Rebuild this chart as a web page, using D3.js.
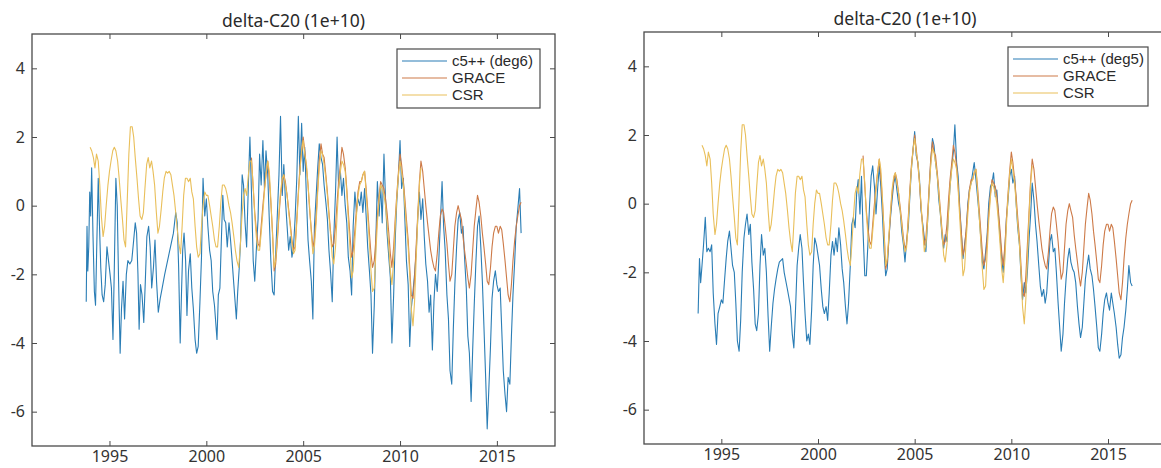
<!DOCTYPE html>
<html>
<head>
<meta charset="utf-8">
<script src="https://cdn.jsdelivr.net/npm/d3@7"></script>
<style>
  body { margin: 0; background: #fff; }
  svg { display: block; font-family: "Noto Sans", "DejaVu Sans", sans-serif; }
</style>
</head>
<body>
<svg id="chart" width="1161" height="468"></svg>
<script>
// ── data (units of 1e-10) ──
const xTicks = [1995, 2000, 2005, 2010, 2015];
const yTicks = [-6, -4, -2, 0, 2, 4];
const titleText = "delta-C20 (1e+10)";
const seriesNames = ["GRACE", "CSR"];

// CSR (yellow), shared by both panels
const csr = [
  [1994.00,1.7],[1994.08,1.6],[1994.17,1.4],[1994.25,1.1],[1994.33,1.5],[1994.42,1.3],[1994.50,0.6],
  [1994.58,-0.3],[1994.67,-0.9],[1994.75,-0.6],[1994.83,0.0],[1994.92,0.6],[1995.00,1.0],[1995.08,1.3],
  [1995.17,1.6],[1995.25,1.7],[1995.33,1.6],[1995.42,1.3],[1995.50,0.8],[1995.58,0.2],[1995.67,-0.4],
  [1995.75,-1.0],[1995.83,-1.2],[1995.92,0.2],[1996.00,1.5],[1996.08,2.3],[1996.17,2.3],[1996.25,2.0],
  [1996.33,1.4],[1996.42,0.8],[1996.50,0.2],[1996.58,-0.3],[1996.67,-0.4],[1996.75,-0.2],[1996.83,0.5],
  [1996.92,1.2],[1997.00,1.4],[1997.08,1.1],[1997.17,1.3],[1997.25,1.0],[1997.33,0.6],[1997.42,-0.2],
  [1997.50,-0.8],[1997.58,-0.6],[1997.67,-0.1],[1997.75,0.4],[1997.83,0.8],[1997.92,1.0],[1998.00,0.95],
  [1998.08,1.0],[1998.17,0.9],[1998.25,0.6],[1998.33,0.3],[1998.42,-0.2],[1998.50,-0.7],[1998.58,-1.1],
  [1998.67,-1.4],[1998.75,-0.6],[1998.83,0.3],[1998.92,0.8],[1999.00,0.8],[1999.08,0.7],[1999.17,0.8],
  [1999.25,0.4],[1999.33,0.2],[1999.42,-0.6],[1999.50,-1.2],[1999.58,-1.5],[1999.67,-1.4],[1999.75,-0.6],
  [1999.83,0.0],[1999.92,0.4],[2000.00,0.3],[2000.08,0.3],[2000.17,0.0],[2000.25,-0.3],[2000.33,-0.6],
  [2000.42,-1.0],[2000.50,-1.2],[2000.58,-1.2],[2000.67,-0.6],[2000.75,0.1],[2000.83,0.6],[2000.92,0.6],
  [2001.00,0.5],[2001.08,0.3],[2001.17,0.0],[2001.25,-0.2],[2001.33,-0.5],[2001.42,-0.9],[2001.50,-1.3],
  [2001.58,-1.6],[2001.67,-1.8],[2001.75,-1.2],[2001.83,-0.4],[2001.92,0.3],[2002.00,0.5],[2002.08,0.3],
  [2002.17,0.9],[2002.25,1.3],[2002.33,1.3],[2002.42,0.6],[2002.50,-0.3],[2002.58,-0.9],[2002.67,-1.3],
  [2002.75,-1.3],[2002.83,-0.8],[2002.92,-0.2],[2003.00,0.4],[2003.08,0.9],[2003.17,1.3],[2003.25,1.0],
  [2003.33,0.2],[2003.42,-0.9],[2003.50,-1.8],[2003.58,-1.6],[2003.67,-0.9],[2003.75,-0.2],[2003.83,0.4],
  [2003.92,0.8],[2004.00,0.9],[2004.08,0.6],[2004.17,0.3],[2004.25,-0.2],[2004.33,-0.6],[2004.42,-1.1],
  [2004.50,-1.4],[2004.58,-1.3],[2004.67,-0.5],[2004.75,0.3],[2004.83,1.0],[2004.92,1.6],[2005.00,1.9],
  [2005.08,1.5],[2005.17,1.2],[2005.25,0.6],[2005.33,0.0],[2005.42,-0.8],[2005.50,-1.4],[2005.58,-1.2],
  [2005.67,-0.5],[2005.75,0.4],[2005.83,1.1],[2005.92,1.6],[2006.00,1.5],[2006.08,1.2],[2006.17,0.8],
  [2006.25,0.3],[2006.33,-0.3],[2006.42,-0.9],[2006.50,-1.5],[2006.58,-1.7],[2006.67,-1.2],[2006.75,-0.3],
  [2006.83,0.5],[2006.92,1.0],[2007.00,1.3],[2007.08,1.2],[2007.17,1.0],[2007.25,0.4],[2007.33,-0.4],
  [2007.42,-1.3],[2007.50,-2.1],[2007.58,-1.9],[2007.67,-1.0],[2007.75,-0.3],[2007.83,0.3],[2007.92,0.6],
  [2008.00,0.7],[2008.08,0.9],[2008.17,1.0],[2008.25,0.4],[2008.33,-0.3],[2008.42,-1.1],[2008.50,-1.9],
  [2008.58,-2.5],[2008.67,-2.4],[2008.75,-1.4],[2008.83,-0.5],[2008.92,0.2],[2009.00,0.6],[2009.08,0.5],
  [2009.17,0.3],[2009.25,0.0],[2009.33,-0.5],[2009.42,-1.2],[2009.50,-1.9],[2009.58,-2.3],[2009.67,-1.6],
  [2009.75,-0.6],[2009.83,0.2],[2009.92,0.9],[2010.00,1.3],[2010.08,1.0],[2010.17,0.6],[2010.25,0.0],
  [2010.33,-0.6],[2010.42,-1.2],[2010.50,-2.0],[2010.58,-3.0],[2010.67,-3.5],[2010.75,-2.8],[2010.83,-1.6],
  [2010.92,-0.3],[2011.00,0.6],[2011.08,1.1]
];

// GRACE (orange), shared by both panels
const grace = [
  [2002.33,1.4],[2002.42,0.5],[2002.50,-0.2],[2002.58,-0.7],[2002.67,-1.1],[2002.75,-1.2],[2002.83,-0.6],
  [2002.92,0.0],[2003.00,0.5],[2003.08,0.9],[2003.17,1.3],[2003.25,0.8],[2003.33,0.1],[2003.42,-0.8],
  [2003.50,-1.9],[2003.58,-1.7],[2003.67,-1.0],[2003.75,-0.3],[2003.83,0.3],[2003.92,0.7],[2004.00,0.9],
  [2004.08,0.7],[2004.17,0.3],[2004.25,-0.1],[2004.33,-0.5],[2004.42,-1.0],[2004.50,-1.3],[2004.58,-1.2],
  [2004.67,-0.4],[2004.75,0.4],[2004.83,1.1],[2004.92,1.6],[2005.00,2.0],[2005.08,1.6],[2005.17,1.1],
  [2005.25,0.6],[2005.33,-0.1],[2005.42,-0.7],[2005.50,-1.2],[2005.58,-1.0],[2005.67,-0.3],[2005.75,0.5],
  [2005.83,1.3],[2005.92,1.8],[2006.00,1.5],[2006.08,1.4],[2006.17,0.9],[2006.25,0.4],[2006.33,-0.2],
  [2006.42,-0.8],[2006.50,-1.2],[2006.58,-1.1],[2006.67,-0.6],[2006.75,0.1],[2006.83,0.7],[2006.92,1.2],
  [2007.00,1.7],[2007.08,1.5],[2007.17,1.1],[2007.25,0.5],[2007.33,-0.2],[2007.42,-0.9],[2007.50,-1.5],
  [2007.58,-1.3],[2007.67,-0.7],[2007.75,-0.1],[2007.83,0.4],[2007.92,0.7],[2008.00,0.7],[2008.08,0.9],
  [2008.17,1.0],[2008.25,0.5],[2008.33,-0.1],[2008.42,-0.8],[2008.50,-1.4],[2008.58,-1.8],[2008.67,-1.6],
  [2008.75,-1.0],[2008.83,-0.3],[2008.92,0.3],[2009.00,0.7],[2009.08,0.6],[2009.17,0.5],[2009.25,0.2],
  [2009.33,-0.2],[2009.42,-0.8],[2009.50,-1.4],[2009.58,-1.8],[2009.67,-1.2],[2009.75,-0.4],[2009.83,0.3],
  [2009.92,1.0],[2010.00,1.5],[2010.08,1.2],[2010.17,0.7],[2010.25,0.2],[2010.33,-0.4],[2010.42,-1.0],
  [2010.50,-1.8],[2010.58,-2.6],[2010.67,-2.7],[2010.75,-2.1],[2010.83,-1.2],[2010.92,-0.2],[2011.00,0.7],
  [2011.08,1.3],[2011.17,1.0],[2011.25,0.5],[2011.33,0.0],[2011.42,-0.5],[2011.50,-0.9],[2011.58,-1.3],
  [2011.67,-1.6],[2011.75,-1.8],[2011.83,-1.9],[2011.92,-1.4],[2012.00,-0.8],[2012.08,-0.3],[2012.17,-0.1],
  [2012.25,-0.2],[2012.33,-0.6],[2012.42,-1.1],[2012.50,-1.7],[2012.58,-2.2],[2012.67,-2.0],[2012.75,-1.3],
  [2012.83,-0.6],[2012.92,-0.2],[2013.00,0.0],[2013.08,-0.2],[2013.17,-0.4],[2013.25,-0.9],[2013.33,-1.3],
  [2013.42,-1.7],[2013.50,-2.1],[2013.58,-2.4],[2013.67,-2.0],[2013.75,-1.3],[2013.83,-0.6],[2013.92,-0.1],
  [2014.00,0.3],[2014.08,0.1],[2014.17,-0.3],[2014.25,-0.8],[2014.33,-1.2],[2014.42,-1.7],[2014.50,-2.2],
  [2014.58,-2.3],[2014.67,-1.8],[2014.75,-1.2],[2014.83,-0.8],[2014.92,-0.6],[2015.00,-0.6],[2015.08,-0.8],
  [2015.17,-0.6],[2015.25,-0.7],[2015.33,-1.1],[2015.42,-1.6],[2015.50,-2.1],[2015.58,-2.6],[2015.67,-2.8],
  [2015.75,-2.3],[2015.83,-1.6],[2015.92,-1.0],[2016.00,-0.6],[2016.08,-0.3],[2016.17,0.0],[2016.25,0.1]
];

// c5++ (deg6), left panel
const c5deg6 = [
  [1993.80,-2.8],[1993.84,-0.6],[1993.88,-1.9],[1993.93,-1.2],[1993.98,0.4],[1994.03,-0.3],[1994.08,1.1],
  [1994.15,-0.9],[1994.22,-2.5],[1994.28,-2.9],[1994.35,-1.0],[1994.42,0.8],[1994.48,-0.5],[1994.55,-1.8],
  [1994.62,-2.6],[1994.70,-2.8],[1994.78,-2.3],[1994.87,-1.2],[1994.95,-1.6],[1995.03,-2.0],[1995.10,-2.4],
  [1995.18,-3.9],[1995.25,-1.8],[1995.33,0.8],[1995.40,0.0],[1995.47,-2.2],[1995.55,-4.3],[1995.62,-3.0],
  [1995.70,-2.2],[1995.78,-3.3],[1995.87,-2.0],[1995.95,-1.6],[1996.05,-1.7],[1996.15,-1.6],[1996.25,-1.0],
  [1996.33,-0.5],[1996.40,-0.8],[1996.47,-2.0],[1996.53,-3.6],[1996.60,-2.3],[1996.68,-2.6],[1996.77,-3.4],
  [1996.85,-2.2],[1996.93,-0.9],[1997.02,-0.6],[1997.10,-1.2],[1997.18,-2.4],[1997.27,-1.8],[1997.35,-1.0],
  [1997.43,-2.2],[1997.52,-3.1],[1997.62,-2.7],[1997.72,-2.4],[1997.85,-2.0],[1998.00,-1.6],[1998.15,-1.2],
  [1998.30,-0.8],[1998.42,-0.2],[1998.50,-0.5],[1998.57,-1.8],[1998.65,-4.0],[1998.72,-2.5],[1998.78,-1.3],
  [1998.85,-0.8],[1998.93,-1.6],[1999.00,-3.2],[1999.08,-1.9],[1999.17,-1.4],[1999.25,-2.4],[1999.33,-3.0],
  [1999.42,-3.9],[1999.50,-4.3],[1999.58,-4.1],[1999.67,-2.8],[1999.75,-1.5],[1999.83,0.8],[1999.92,-0.3],
  [2000.00,0.2],[2000.08,-0.6],[2000.17,-1.3],[2000.25,-1.6],[2000.33,-2.5],[2000.42,-2.9],[2000.55,-3.9],
  [2000.62,-2.6],[2000.70,-2.4],[2000.77,-1.1],[2000.85,0.3],[2000.92,-0.4],[2001.00,-0.5],[2001.08,-1.2],
  [2001.17,-0.5],[2001.25,-1.0],[2001.33,-1.6],[2001.42,-2.3],[2001.55,-3.3],[2001.62,-2.5],[2001.70,-1.8],
  [2001.77,-1.0],[2001.85,0.9],[2001.92,0.6],[2002.00,-0.5],[2002.08,-1.2],[2002.17,0.6],[2002.25,2.0],
  [2002.33,0.4],[2002.42,-1.6],[2002.50,-2.2],[2002.58,-1.3],[2002.67,-0.4],[2002.75,1.5],[2002.83,0.6],
  [2002.92,1.9],[2003.00,0.5],[2003.08,1.6],[2003.17,0.9],[2003.25,-0.4],[2003.33,-1.6],[2003.42,-2.5],
  [2003.50,-2.6],[2003.58,-1.4],[2003.67,-0.2],[2003.75,0.9],[2003.83,2.6],[2003.92,0.3],[2004.00,1.2],
  [2004.08,0.2],[2004.17,-0.6],[2004.25,-1.3],[2004.33,-0.9],[2004.42,-1.5],[2004.50,-1.2],[2004.58,-0.4],
  [2004.67,0.8],[2004.75,2.6],[2004.83,0.9],[2004.92,2.4],[2005.00,1.0],[2005.08,1.7],[2005.17,0.2],
  [2005.25,-1.0],[2005.33,-1.6],[2005.42,-2.2],[2005.50,-3.3],[2005.58,-0.6],[2005.67,0.3],[2005.75,1.1],
  [2005.83,1.8],[2005.92,1.4],[2006.00,1.2],[2006.08,0.6],[2006.17,0.1],[2006.25,-0.4],[2006.33,-1.3],
  [2006.42,-2.0],[2006.50,-2.8],[2006.58,-0.9],[2006.67,0.4],[2006.75,2.0],[2006.83,0.5],[2006.92,1.0],
  [2007.00,0.3],[2007.08,0.8],[2007.17,0.0],[2007.25,-0.5],[2007.33,-1.5],[2007.42,-1.9],[2007.50,-2.6],
  [2007.58,-0.6],[2007.67,0.4],[2007.75,-0.2],[2007.83,0.2],[2007.92,0.0],[2008.00,0.4],[2008.08,-0.2],
  [2008.17,0.5],[2008.25,-0.3],[2008.33,-1.2],[2008.42,-1.9],[2008.50,-2.6],[2008.58,-4.3],[2008.67,-2.9],
  [2008.75,-1.0],[2008.83,0.7],[2008.92,-0.3],[2009.00,0.6],[2009.08,-0.5],[2009.17,1.5],[2009.25,0.2],
  [2009.33,-0.8],[2009.42,-1.5],[2009.50,-2.1],[2009.58,-4.0],[2009.67,-2.6],[2009.75,-1.0],[2009.83,0.1],
  [2009.92,0.9],[2010.00,1.9],[2010.08,0.5],[2010.17,0.8],[2010.25,-0.4],[2010.33,-1.6],[2010.42,-2.3],
  [2010.50,-4.1],[2010.58,-3.0],[2010.67,-2.5],[2010.75,-2.0],[2010.83,-1.4],[2010.92,-0.3],[2011.00,0.4],
  [2011.08,-0.4],[2011.17,0.2],[2011.25,-0.9],[2011.33,-1.7],[2011.42,-2.2],[2011.50,-3.1],[2011.58,-2.6],
  [2011.67,-4.2],[2011.75,-2.8],[2011.83,-2.0],[2011.92,-2.5],[2012.00,-1.6],[2012.08,-0.5],[2012.17,0.7],
  [2012.25,-0.6],[2012.33,-1.3],[2012.42,-2.6],[2012.50,-3.3],[2012.58,-4.8],[2012.67,-5.2],[2012.75,-3.6],
  [2012.83,-2.3],[2012.92,-1.2],[2013.00,-0.4],[2013.08,-0.2],[2013.17,-0.8],[2013.25,-0.6],[2013.33,-1.5],
  [2013.42,-2.4],[2013.50,-3.8],[2013.58,-4.3],[2013.67,-5.7],[2013.75,-4.2],[2013.83,-2.9],[2013.92,-1.6],
  [2014.00,-0.6],[2014.08,-0.3],[2014.17,-1.2],[2014.25,-2.2],[2014.33,-3.5],[2014.42,-5.0],[2014.50,-6.5],
  [2014.58,-5.4],[2014.67,-4.1],[2014.75,-2.7],[2014.83,-2.2],[2014.92,-1.9],[2015.00,-2.3],[2015.08,-2.5],
  [2015.17,-2.4],[2015.25,-3.6],[2015.33,-4.8],[2015.42,-5.5],[2015.50,-6.0],[2015.58,-5.0],[2015.67,-5.2],
  [2015.75,-3.8],[2015.83,-2.6],[2015.92,-1.6],[2016.00,-0.6],[2016.08,-0.1],[2016.17,0.5],[2016.25,-0.8]
];

// c5++ (deg5), right panel
const c5deg5 = [
  [1993.80,-3.2],[1993.87,-1.6],[1993.93,-2.3],[1994.00,-1.8],[1994.08,-1.2],[1994.17,-0.4],[1994.25,-1.4],
  [1994.33,-1.3],[1994.42,-1.4],[1994.50,-1.2],[1994.58,-2.6],[1994.67,-3.5],[1994.75,-4.1],[1994.83,-3.2],
  [1994.92,-3.0],[1995.00,-2.8],[1995.08,-2.9],[1995.17,-2.2],[1995.25,-1.6],[1995.33,-1.1],[1995.42,-0.8],
  [1995.50,-1.3],[1995.58,-1.8],[1995.67,-2.0],[1995.75,-2.9],[1995.83,-4.0],[1995.92,-4.3],[1996.00,-3.4],
  [1996.08,-2.0],[1996.17,-1.0],[1996.25,-0.6],[1996.33,-0.3],[1996.42,-0.9],[1996.50,-0.6],[1996.58,-1.7],
  [1996.67,-2.5],[1996.75,-3.5],[1996.83,-3.7],[1996.92,-3.2],[1997.00,-1.8],[1997.08,-0.9],[1997.17,-1.5],
  [1997.25,-1.3],[1997.33,-2.0],[1997.42,-3.3],[1997.50,-4.3],[1997.58,-3.6],[1997.67,-2.9],[1997.75,-2.5],
  [1997.83,-2.2],[1997.92,-1.9],[1998.00,-1.7],[1998.17,-1.6],[1998.25,-2.0],[1998.42,-2.5],[1998.58,-3.0],
  [1998.67,-3.8],[1998.75,-4.2],[1998.83,-3.2],[1998.92,-1.8],[1999.00,-1.3],[1999.08,-0.9],[1999.17,-1.3],
  [1999.25,-2.3],[1999.33,-3.2],[1999.42,-4.0],[1999.50,-3.8],[1999.58,-4.1],[1999.67,-3.1],[1999.75,-1.8],
  [1999.83,-1.0],[1999.92,-1.2],[2000.00,-1.5],[2000.08,-1.8],[2000.17,-2.5],[2000.25,-3.0],[2000.33,-3.2],
  [2000.42,-3.0],[2000.50,-3.4],[2000.58,-2.6],[2000.67,-1.5],[2000.75,-1.1],[2000.83,-1.5],[2000.92,-1.0],
  [2001.00,-1.4],[2001.08,-0.7],[2001.17,-1.2],[2001.25,-1.9],[2001.33,-2.3],[2001.42,-3.0],[2001.50,-3.5],
  [2001.58,-2.9],[2001.67,-1.8],[2001.75,-0.6],[2001.83,-0.4],[2001.92,-0.7],[2002.00,0.3],[2002.08,0.7],
  [2002.17,-0.3],[2002.25,0.8],[2002.33,-0.8],[2002.42,-2.1],[2002.50,-2.1],[2002.58,-1.2],[2002.67,0.0],
  [2002.75,0.8],[2002.83,1.1],[2002.92,0.5],[2003.00,-0.3],[2003.08,0.4],[2003.17,1.1],[2003.25,0.5],
  [2003.33,-0.3],[2003.42,-1.4],[2003.50,-2.1],[2003.58,-1.9],[2003.67,-1.0],[2003.75,-0.4],[2003.83,0.1],
  [2003.92,0.6],[2004.00,0.8],[2004.08,0.4],[2004.17,0.0],[2004.25,-0.2],[2004.33,-0.8],[2004.42,-1.2],
  [2004.50,-1.7],[2004.58,-1.1],[2004.67,-0.7],[2004.75,0.2],[2004.83,1.0],[2004.92,1.6],[2005.00,2.1],
  [2005.08,1.4],[2005.17,1.2],[2005.25,0.7],[2005.33,-0.2],[2005.42,-0.6],[2005.50,-1.0],[2005.58,-1.4],
  [2005.67,-0.5],[2005.75,0.4],[2005.83,1.2],[2005.92,1.9],[2006.00,1.7],[2006.08,1.2],[2006.17,0.8],
  [2006.25,0.1],[2006.33,-0.3],[2006.42,-1.0],[2006.50,-1.3],[2006.58,-0.9],[2006.67,-1.1],[2006.75,-0.2],
  [2006.83,0.5],[2006.92,1.1],[2007.00,1.5],[2007.08,2.3],[2007.17,1.2],[2007.25,0.8],[2007.33,-0.1],
  [2007.42,-0.9],[2007.50,-1.6],[2007.58,-1.2],[2007.67,-0.8],[2007.75,0.0],[2007.83,0.4],[2007.92,0.6],
  [2008.00,0.9],[2008.08,1.2],[2008.17,0.7],[2008.25,0.2],[2008.33,-0.3],[2008.42,-1.0],[2008.50,-1.7],
  [2008.58,-1.9],[2008.67,-1.4],[2008.75,-0.9],[2008.83,0.0],[2008.92,0.5],[2009.00,0.6],[2009.08,0.9],
  [2009.17,0.2],[2009.25,0.4],[2009.33,-0.3],[2009.42,-1.0],[2009.50,-1.6],[2009.58,-2.0],[2009.67,-1.3],
  [2009.75,-0.4],[2009.83,0.1],[2009.92,0.8],[2010.00,1.0],[2010.08,0.6],[2010.17,0.8],[2010.25,0.0],
  [2010.33,-0.7],[2010.42,-1.2],[2010.50,-2.1],[2010.58,-2.8],[2010.67,-2.3],[2010.75,-2.6],[2010.83,-2.0],
  [2010.92,-1.0],[2011.00,-0.3],[2011.08,0.6],[2011.17,0.1],[2011.25,-0.6],[2011.33,-1.1],[2011.42,-1.8],
  [2011.50,-2.4],[2011.58,-2.7],[2011.67,-2.5],[2011.75,-2.9],[2011.83,-2.6],[2011.92,-1.8],[2012.00,-1.1],
  [2012.08,-0.9],[2012.17,-1.4],[2012.25,-1.3],[2012.33,-2.0],[2012.42,-2.9],[2012.50,-3.6],[2012.58,-4.3],
  [2012.67,-3.8],[2012.75,-2.9],[2012.83,-2.2],[2012.92,-1.6],[2013.00,-1.3],[2013.08,-1.7],[2013.17,-1.9],
  [2013.25,-2.0],[2013.33,-2.3],[2013.42,-3.0],[2013.50,-3.5],[2013.58,-3.9],[2013.67,-3.6],[2013.75,-2.9],
  [2013.83,-2.2],[2013.92,-1.8],[2014.00,-1.5],[2014.08,-1.9],[2014.17,-2.1],[2014.25,-2.5],[2014.33,-3.0],
  [2014.42,-3.6],[2014.50,-4.2],[2014.58,-4.3],[2014.67,-3.8],[2014.75,-3.2],[2014.83,-2.8],[2014.92,-2.6],
  [2015.00,-2.9],[2015.08,-3.1],[2015.17,-2.6],[2015.25,-2.9],[2015.33,-3.2],[2015.42,-3.6],[2015.50,-4.1],
  [2015.58,-4.5],[2015.67,-4.4],[2015.75,-3.9],[2015.83,-3.6],[2015.92,-3.1],[2016.00,-2.5],[2016.08,-1.8],
  [2016.17,-2.3],[2016.25,-2.4]
];

const colors = { c5: "#2a7db5", grace: "#cd7a48", csr: "#e9bf5a" };

const svg = d3.select("#chart");

function drawPanel(p) {
  const x = d3.scaleLinear().domain([1991, 2018]).range([p.x0, p.x1]);
  const y = d3.scaleLinear().domain([-7, 5]).range([p.y1, p.y0]);
  const g = svg.append("g");

  const line = d3.line().x((d) => x(d[0])).y((d) => y(d[1]));

  // MATLAB draws c5++ first, then GRACE, then CSR on top
  [
    [p.c5, colors.c5],
    [grace, colors.grace],
    [csr, colors.csr],
  ].forEach(([data, col]) => {
    g.append("path")
      .datum(data)
      .attr("d", line)
      .attr("fill", "none")
      .attr("stroke", col)
      .attr("stroke-width", 1.1)
      .attr("stroke-linejoin", "round");
  });

  const fmt = (d) => String(d);
  const axisStyle = (sel) => {
    sel.select(".domain").remove();
    sel.selectAll(".tick line").attr("stroke", "#4a4a4a").attr("stroke-width", 1);
    sel.selectAll(".tick text").attr("fill", "#333").attr("font-size", "16px")
      .attr("font-family", '"Noto Sans", sans-serif');
  };
  g.append("g").attr("transform", `translate(0,${p.y1})`)
    .call(d3.axisBottom(x).tickValues(xTicks).tickFormat(fmt).tickSizeInner(-5).tickSizeOuter(0).tickPadding(5))
    .call(axisStyle);
  g.append("g").attr("transform", `translate(0,${p.y0})`)
    .call(d3.axisTop(x).tickValues(xTicks).tickFormat("").tickSizeInner(-5).tickSizeOuter(0))
    .call(axisStyle);
  g.append("g").attr("transform", `translate(${p.x0},0)`)
    .call(d3.axisLeft(y).tickValues(yTicks).tickFormat(fmt).tickSizeInner(-5).tickSizeOuter(0).tickPadding(7))
    .call(axisStyle);
  g.append("g").attr("transform", `translate(${p.x1},0)`)
    .call(d3.axisRight(y).tickValues(yTicks).tickFormat("").tickSizeInner(-5).tickSizeOuter(0))
    .call(axisStyle);

  // box
  g.append("rect")
    .attr("x", p.x0).attr("y", p.y0)
    .attr("width", p.x1 - p.x0).attr("height", p.y1 - p.y0)
    .attr("fill", "none").attr("stroke", "#4a4a4a").attr("stroke-width", 1.3);

  // title
  g.append("text")
    .attr("x", (p.x0 + p.x1) / 2).attr("y", p.y0 - 7)
    .attr("text-anchor", "middle")
    .attr("fill", "#2a2a2a").attr("font-size", "17.5px")
    .text(titleText);

  // legend
  const rowH = 17;
  const lg = g.append("g").attr("transform", `translate(${p.lx},${p.ly})`);
  lg.append("rect").attr("width", p.lw).attr("height", 8 + 3 * rowH)
    .attr("fill", "#fff").attr("stroke", "#4a4a4a").attr("stroke-width", 1.2);
  const names = [p.label].concat(seriesNames);
  const cols = [colors.c5, colors.grace, colors.csr];
  names.forEach((n, i) => {
    const yy = 12 + i * rowH;
    lg.append("line").attr("x1", 5).attr("x2", 50).attr("y1", yy).attr("y2", yy)
      .attr("stroke", cols[i]).attr("stroke-width", 1.1);
    lg.append("text").attr("x", 55).attr("y", yy + 5)
      .attr("fill", "#2a2a2a").attr("font-size", "15px")
      .attr("font-family", '"Liberation Sans", Arial, sans-serif')
      .text(n);
  });
}

drawPanel({ x0: 32, x1: 555, y0: 34, y1: 446, c5: c5deg6, label: "c5++ (deg6)", lx: 397, ly: 49, lw: 143 });
drawPanel({ x0: 644, x1: 1166, y0: 32, y1: 444, c5: c5deg5, label: "c5++ (deg5)", lx: 1008, ly: 47, lw: 140 });
</script>
</body>
</html>
